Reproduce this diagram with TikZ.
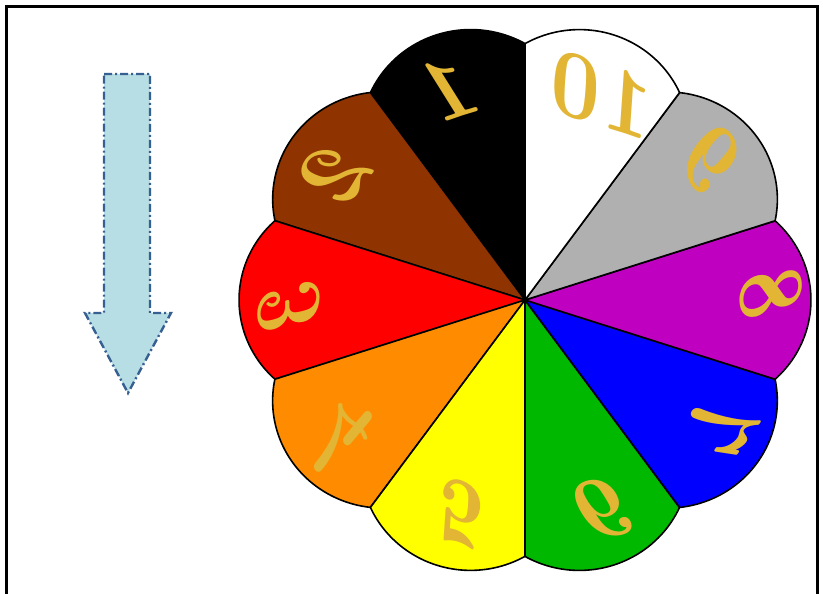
\documentclass[tikz,border=0pt]{standalone}
\usetikzlibrary{calc}

\definecolor{petalbrown}{RGB}{143,51,0}
\definecolor{petalred}{RGB}{255,0,0}
\definecolor{petalorange}{RGB}{255,140,0}
\definecolor{petalyellow}{RGB}{255,255,0}
\definecolor{petalgreen}{RGB}{0,184,0}
\definecolor{petalblue}{RGB}{0,0,255}
\definecolor{petalpurple}{RGB}{192,0,192}
\definecolor{petalgray}{RGB}{176,176,176}
\definecolor{digitgold}{RGB}{226,182,52}
\definecolor{arrowfill}{RGB}{183,222,228}
\definecolor{arrowedge}{RGB}{55,96,146}

\begin{document}
\begin{tikzpicture}[x=1pt, y=1pt,
  petal/.style={draw=black, line width=1.6pt, line join=round},
  digit/.style={text=digitgold, font=\fontsize{92}{92}\selectfont\bfseries\itshape, inner sep=0pt},
  arrowline/.style={draw=arrowedge, fill=arrowfill, line width=2.4pt, dash pattern=on 8pt off 3pt on 2pt off 3pt}]

\useasboundingbox (0,0) rectangle (823,594);

% Frame
\draw[line width=3pt] (6,0) -- (6,587) -- (817,587) -- (817,0);

% Down Arrow
\draw[arrowline] (104,520) -- (150,520) -- (150,281) -- (171,281) -- (128,201) -- (85,281) -- (104,281) -- cycle;

% Wheel Centre
\coordinate (c) at (525,294);

\begin{scope}[shift={(c)}, yscale=0.975]
% Wheel Petals
\draw[petal, fill=black] (0,0) -- (90:263) arc[start angle=60.4, end angle=155.6, radius=110] -- cycle;
\draw[petal, fill=petalbrown] (0,0) -- (126:263) arc[start angle=96.4, end angle=191.6, radius=110] -- cycle;
\draw[petal, fill=petalred] (0,0) -- (162:263) arc[start angle=132.4, end angle=227.6, radius=110] -- cycle;
\draw[petal, fill=petalorange] (0,0) -- (198:263) arc[start angle=168.4, end angle=263.6, radius=110] -- cycle;
\draw[petal, fill=petalyellow] (0,0) -- (234:263) arc[start angle=204.4, end angle=299.6, radius=110] -- cycle;
\draw[petal, fill=petalgreen] (0,0) -- (270:263) arc[start angle=240.4, end angle=335.6, radius=110] -- cycle;
\draw[petal, fill=petalblue] (0,0) -- (306:263) arc[start angle=276.4, end angle=371.6, radius=110] -- cycle;
\draw[petal, fill=petalpurple] (0,0) -- (342:263) arc[start angle=312.4, end angle=407.6, radius=110] -- cycle;
\draw[petal, fill=petalgray] (0,0) -- (18:263) arc[start angle=-11.6, end angle=83.6, radius=110] -- cycle;
\draw[petal, fill=white] (0,0) -- (54:263) arc[start angle=24.4, end angle=119.6, radius=110] -- cycle;

% Mirrored Numbers
\node[digit, rotate=18, xscale=-1] (n1) at (108:230) {1};
\node[digit, rotate=54, xscale=-1] (n2) at (144:230) {2};
\node[digit, rotate=90, xscale=-1] (n3) at (180:236) {3};
\node[digit, rotate=126, xscale=-1] (n4) at (216:232) {4};
\node[digit, rotate=162, xscale=-1] (n5) at (252:228) {5};
\node[digit, rotate=198, xscale=-1] (n6) at (288:228) {6};
\node[digit, rotate=234, xscale=-1] (n7) at (324:234) {7};
\node[digit, rotate=-90, xscale=-1] (n8) at (0:246) {8};
\node[digit, rotate=-54, xscale=-1] (n9) at (36:236) {9};
\node[digit, rotate=-18, xscale=-1] (n10) at (68:224) {10};
\end{scope}

\end{tikzpicture}
\end{document}
